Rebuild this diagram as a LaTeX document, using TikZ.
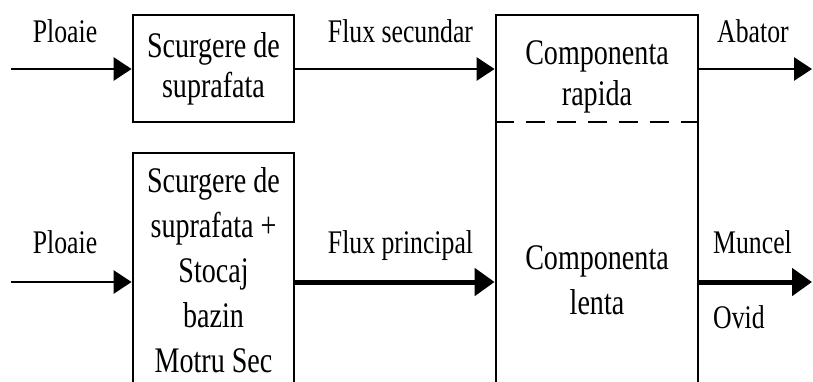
\documentclass[tikz,border=0pt]{standalone}
\usepackage{fontspec}
\setmainfont{Liberation Serif}[FakeStretch=0.78]
\usetikzlibrary{arrows.meta}
\begin{document}
\begin{tikzpicture}[x=1pt,y=-1pt,
  box/.style={draw, line width=2.8pt, inner sep=0pt, align=center},
  txt/.style={inner sep=0pt, align=center},
  lbl/.style={inner sep=0pt, font=\fontsize{33}{38}\selectfont},
  thinarrow/.style={line width=2.8pt, -{Triangle[length=18pt,width=23pt]}},
  thickarrow/.style={line width=5pt, -{Triangle[length=20pt,width=27pt]}},
  divider/.style={line width=2.8pt, dash pattern=on 19pt off 12pt}
]
\useasboundingbox (0,0) rectangle (813,381);
\clip (0,0) rectangle (813,381);

% boxes
\node[box, minimum width=161pt, minimum height=107pt, font=\fontsize{36}{40}\selectfont] (surf) at (213.5,68.5) {Scurgere de\\suprafata};
\node[box, minimum width=161pt, minimum height=234pt, font=\fontsize{36}{45}\selectfont] (stoc) at (213.5,270) {Scurgere de\\suprafata +\\Stocaj\\bazin\\Motru Sec};
\node[box, minimum width=202pt, minimum height=372pt] (comp) at (597,201) {};
\node[txt, font=\fontsize{36}{41}\selectfont] (rapid) at (597,77) {Componenta\\rapida};
\node[txt, font=\fontsize{36}{45}\selectfont] (lent) at (597,280) {Componenta\\lenta};

% divider
\coordinate (dl) at (0,122);
\draw[divider] (comp.west |- dl) -- (comp.east |- dl);

% connector ends
\coordinate (in1) at (11,69);
\coordinate (in2) at (11,282);
\coordinate (out1) at (812,69);
\coordinate (out2) at (812,282);

\draw[thinarrow] (in1) -- (in1 -| surf.west);
\draw[thinarrow] (in1 -| surf.east) -- (in1 -| comp.west);
\draw[thinarrow] (in1 -| comp.east) -- (out1);
\draw[thinarrow] (in2) -- (in2 -| stoc.west);
\draw[thickarrow] (in2 -| stoc.east) -- (in2 -| comp.west);
\draw[thickarrow] (in2 -| comp.east) -- (out2);

% labels
\node[lbl, anchor=base] (p1) at (65,42) {Ploaie};
\node[lbl, anchor=base] (fs) at (400.5,42) {Flux secundar};
\node[lbl, anchor=base west] (ab) at (717,42) {Abator};
\node[lbl, anchor=base] (p2) at (65,253) {Ploaie};
\node[lbl, anchor=base] (fp) at (400.5,253) {Flux principal};
\node[lbl, anchor=base west] (mu) at (713,253) {Muncel};
\node[lbl, anchor=base west] (ov) at (713,328) {Ovid};
\end{tikzpicture}
\end{document}
